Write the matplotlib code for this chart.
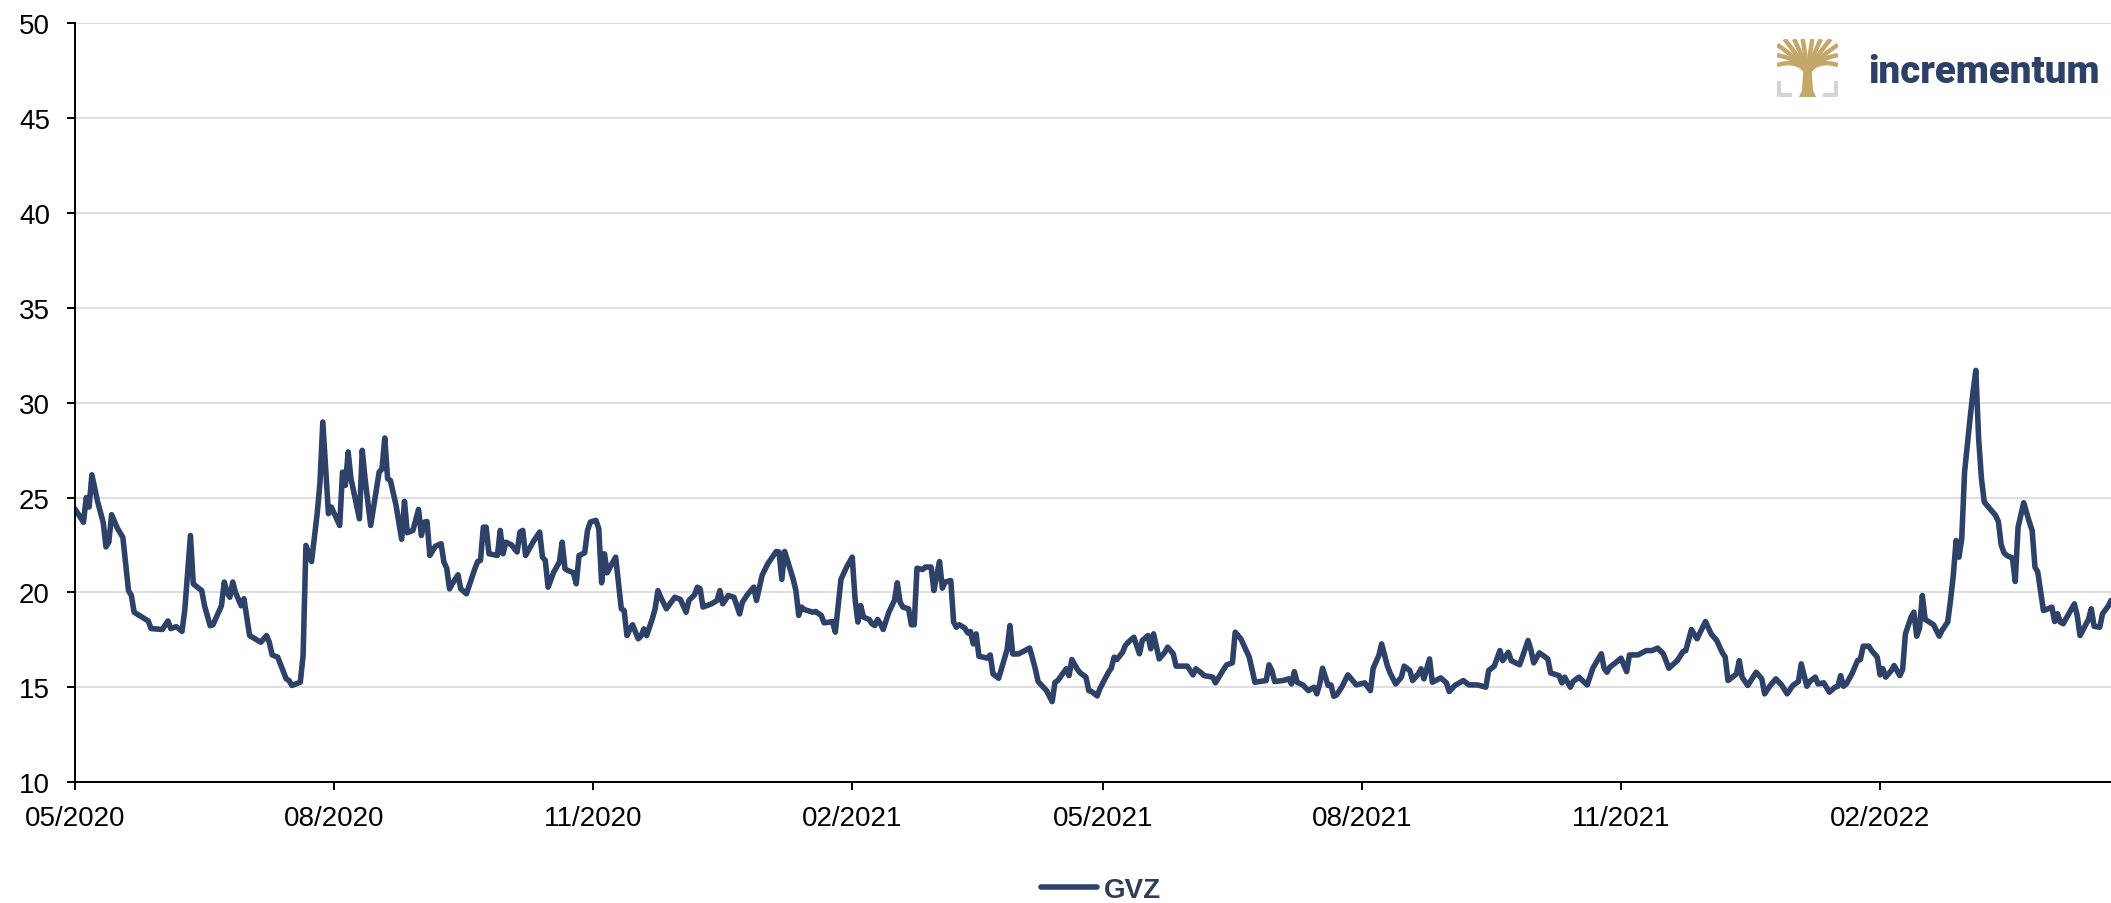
import matplotlib
matplotlib.use("Agg")
import matplotlib.pyplot as plt
import matplotlib.dates as mdates
import numpy as np
import pandas as pd

plt.rcParams['font.family'] = ['Liberation Sans', 'DejaVu Sans']

# GVZ closes, days counted from 1 May 2020
start = pd.Timestamp('2020-05-01')
obs_day = [
    0, 3, 4, 5, 6, 8, 10, 11, 12, 13, 15, 17, 19, 20, 21, 26, 27, 31, 33, 34,
    36, 38, 39, 41, 42, 45, 46, 48, 49, 52, 53, 54, 55, 56, 57, 59, 60, 62, 66, 68,
    69, 70, 72, 75, 76, 77, 80, 81, 82, 84, 86, 87, 88, 90, 91, 94, 95, 96, 97, 98,
    101, 102, 103, 105, 108, 109, 110, 111, 112, 114, 116, 117, 118, 120, 122, 123, 124, 125, 126, 128,
    130, 131, 132, 133, 134, 136, 137, 139, 142, 143, 144, 145, 146, 147, 150, 151, 152, 153, 155, 157,
    158, 159, 160, 162, 163, 165, 166, 167, 168, 170, 172, 173, 174, 175, 177, 178, 179, 181, 182, 183,
    185, 186, 187, 188, 189, 190, 192, 194, 195, 196, 197, 198, 200, 201, 202, 203, 205, 206, 207, 208,
    210, 213, 215, 217, 218, 220, 221, 222, 223, 226, 228, 229, 230, 232, 234, 236, 237, 239, 241, 242,
    244, 246, 249, 250, 251, 252, 255, 256, 257, 258, 259, 262, 263, 265, 266, 268, 269, 270, 272, 274,
    276, 277, 278, 279, 280, 282, 283, 284, 285, 286, 287, 289, 291, 292, 293, 294, 296, 297, 298, 299,
    301, 302, 304, 305, 306, 307, 308, 309, 311, 312, 313, 314, 316, 317, 318, 319, 320, 321, 324, 325,
    326, 328, 331, 332, 333, 335, 339, 340, 341, 342, 345, 347, 348, 349, 352, 353, 354, 356, 357, 359,
    360, 361, 363, 364, 367, 368, 369, 370, 372, 373, 374, 376, 377, 378, 379, 381, 382, 383, 385, 387,
    388, 390, 391, 393, 395, 397, 398, 400, 401, 404, 405, 408, 409, 411, 412, 414, 417, 419, 423, 424,
    425, 426, 429, 431, 432, 433, 434, 436, 438, 440, 441, 442, 443, 445, 446, 447, 448, 450, 452, 455,
    458, 460, 461, 463, 464, 466, 467, 469, 471, 472, 474, 475, 477, 478, 479, 481, 482, 485, 487, 488,
    490, 493, 495, 498, 501, 502, 504, 506, 507, 509, 510, 513, 516, 517, 518, 520, 523, 524, 527, 528,
    529, 531, 532, 534, 537, 539, 542, 543, 544, 545, 547, 549, 551, 552, 555, 558, 560, 562, 564, 566,
    569, 571, 572, 574, 576, 579, 581, 583, 585, 586, 587, 590, 591, 592, 594, 597, 599, 600, 602, 604,
    606, 608, 610, 612, 613, 615, 616, 618, 619, 621, 623, 625, 626, 627, 628, 629, 631, 633, 634, 635,
    637, 638, 640, 641, 642, 643, 645, 646, 648, 649, 650, 652, 653, 654, 655, 656, 657, 660, 661, 662,
    663, 665, 666, 667, 668, 669, 670, 671, 673, 674, 675, 676, 677, 678, 680, 682, 683, 684, 685, 686,
    688, 689, 690, 692, 694, 695, 696, 697, 699, 700, 702, 703, 704, 705, 706, 708, 710, 711, 712, 715,
    716, 717, 719, 720, 722, 723,
]
gvz = [
    24.4, 23.7, 25.0, 24.5, 26.2, 24.8, 23.7, 22.4, 22.65, 24.1, 23.4, 22.9, 20.1, 19.85, 18.96, 18.5, 18.1, 18.05, 18.5, 18.1,
    18.2, 17.95, 19.1, 23.0, 20.45, 20.1, 19.3, 18.25, 18.3, 19.3, 20.55, 20.0, 19.75, 20.55, 20.0, 19.3, 19.67, 17.73, 17.38, 17.73,
    17.38, 16.71, 16.59, 15.45, 15.36, 15.1, 15.27, 16.68, 22.48, 21.63, 24.15, 25.8, 28.98, 24.15, 24.5, 23.53, 26.34, 25.64, 27.4, 26.0,
    23.88, 27.49, 26.0, 23.53, 26.34, 26.5, 28.14, 26.0, 25.9, 24.6, 22.8, 24.8, 23.15, 23.27, 24.38, 23.0, 23.7, 23.74, 21.95, 22.44,
    22.57, 21.6, 21.28, 20.19, 20.46, 20.93, 20.19, 19.93, 21.25, 21.63, 21.69, 23.44, 23.44, 22.04, 21.95, 23.27, 22.04, 22.65, 22.51, 22.13,
    23.18, 23.27, 21.95, 22.48, 22.74, 23.18, 21.86, 21.69, 20.28, 21.07, 21.6, 22.65, 21.25, 21.16, 21.04, 20.46, 21.95, 22.09, 23.27, 23.71,
    23.8, 23.36, 20.51, 22.04, 21.04, 21.34, 21.86, 19.14, 19.05, 17.73, 18.05, 18.3, 17.56, 17.7, 18.08, 17.73, 18.61, 19.14, 20.1, 19.75,
    19.14, 19.75, 19.63, 18.96, 19.58, 19.88, 20.28, 20.19, 19.23, 19.4, 19.58, 20.1, 19.4, 19.84, 19.75, 18.87, 19.49, 19.93, 20.28, 19.58,
    20.9, 21.51, 22.16, 22.13, 20.69, 22.16, 20.72, 20.1, 18.79, 19.23, 19.1, 18.96, 19.0, 18.79, 18.4, 18.44, 18.47, 17.91, 20.69, 21.34,
    21.86, 19.67, 18.44, 19.31, 18.7, 18.58, 18.35, 18.26, 18.58, 18.35, 18.05, 18.96, 19.58, 20.51, 19.49, 19.23, 19.14, 18.3, 18.3, 21.28,
    21.21, 21.34, 21.34, 20.1, 20.9, 21.63, 20.23, 20.55, 20.63, 18.44, 18.17, 18.3, 18.12, 17.87, 17.94, 17.29, 17.82, 16.64, 16.54, 16.71,
    15.71, 15.48, 16.99, 18.26, 16.76, 16.76, 17.07, 16.54, 15.98, 15.31, 14.83, 14.25, 15.27, 15.36, 15.98, 15.62, 16.47, 15.94, 15.76, 15.54,
    14.83, 14.78, 14.55, 14.95, 15.8, 16.01, 16.59, 16.47, 16.85, 17.21, 17.38, 17.64, 17.21, 16.77, 17.47, 17.73, 17.03, 17.82, 16.5, 16.85,
    17.12, 16.77, 16.12, 16.12, 16.12, 15.66, 15.98, 15.76, 15.62, 15.54, 15.24, 15.98, 16.19, 16.29, 17.91, 17.56, 16.59, 15.27, 15.36, 16.19,
    15.89, 15.31, 15.36, 15.45, 15.18, 15.83, 15.27, 15.13, 14.83, 15.01, 14.66, 15.18, 16.01, 15.1, 15.13, 14.53, 14.6, 15.06, 15.66, 15.13,
    15.24, 14.83, 16.01, 16.68, 17.29, 16.15, 15.76, 15.18, 15.54, 16.12, 15.89, 15.36, 15.71, 15.98, 15.45, 16.5, 15.27, 15.5, 15.24, 14.78,
    15.1, 15.36, 15.13, 15.13, 15.01, 15.89, 16.12, 16.94, 16.41, 16.85, 16.41, 16.19, 17.47, 16.99, 16.29, 16.82, 16.5, 15.76, 15.62, 15.24,
    15.54, 15.01, 15.31, 15.54, 15.13, 16.01, 16.77, 16.01, 15.8, 16.06, 16.29, 16.54, 15.83, 16.71, 16.71, 16.94, 16.94, 17.07, 16.77, 16.01,
    16.41, 16.88, 16.94, 18.05, 17.56, 18.47, 17.82, 17.47, 16.82, 16.6, 15.36, 15.71, 16.41, 15.54, 15.1, 15.8, 15.45, 14.66, 15.1, 15.45,
    15.13, 14.66, 15.1, 15.31, 16.24, 15.06, 15.31, 15.54, 15.18, 15.24, 14.75, 15.01, 15.06, 15.62, 15.06, 15.18, 15.71, 16.41, 16.47, 17.17,
    17.17, 16.94, 16.59, 15.66, 15.98, 15.54, 15.89, 16.15, 15.62, 15.94, 17.82, 18.7, 18.96, 17.7, 18.12, 19.84, 18.58, 18.3, 18.0, 17.7,
    18.0, 18.44, 19.58, 20.9, 22.74, 21.86, 22.83, 26.34, 29.24, 30.56, 31.7, 28.1, 25.99, 24.76, 24.41, 24.06, 23.74, 22.51, 22.09, 21.95,
    21.81, 20.58, 23.44, 24.73, 23.71, 23.27, 21.34, 21.07, 19.05, 19.1, 19.23, 18.47, 18.88, 18.44, 18.35, 18.88, 19.4, 18.79, 17.73, 18.58,
    19.14, 18.22, 18.17, 18.88, 19.28, 19.58,
]
dates = start + pd.to_timedelta(obs_day, unit='D')

navy = '#2d4169'

fig = plt.figure(figsize=(21.11, 9.04), dpi=100)
ax = fig.add_axes([75 / 2111, 120.7 / 904, 2036 / 2111, 759.3 / 904])

ax.plot(dates, gvz, color=navy, lw=4.0, solid_joinstyle='round',
        solid_capstyle='round', label='GVZ')

ax.set_ylim(10, 50)
ax.set_yticks(range(10, 51, 5))
ax.set_xlim(dates[0], dates[-1])
ax.xaxis.set_major_locator(mdates.MonthLocator(bymonth=[2, 5, 8, 11]))
ax.xaxis.set_major_formatter(mdates.DateFormatter('%m/%Y'))

ax.yaxis.grid(True, color='#d9d9d9', lw=1.2)
ax.set_axisbelow(True)
for side in ['top', 'right']:
    ax.spines[side].set_visible(False)
for side in ['left', 'bottom']:
    ax.spines[side].set_linewidth(1.4)
    ax.spines[side].set_color('black')
ax.tick_params(axis='both', direction='out', length=6, width=1.4, labelsize=20)
ax.tick_params(axis='y', pad=12)
ax.tick_params(axis='x', pad=10)

leg = fig.legend(loc='center', bbox_to_anchor=(1101 / 2111, 13 / 904), frameon=False,
                 fontsize=20, handlelength=2.0, handletextpad=0.25)
for t in leg.get_texts():
    t.set_fontweight('bold')
    t.set_color('#2f3d55')

# logo: tree mark + word
icon = fig.add_axes([1777 / 2111, 1 - 98 / 904, 61 / 2111, 58 / 904])
icon.set_xlim(0, 1)
icon.set_ylim(0, 1)
icon.axis('off')
gold = '#c4a86a'
grey = '#d4d4d4'
icon.plot([0.03, 0.03, 0.24], [0.27, 0.03, 0.03], color=grey, lw=3, solid_capstyle='butt')
icon.plot([0.76, 0.97, 0.97], [0.03, 0.03, 0.27], color=grey, lw=3, solid_capstyle='butt')
icon.fill([0.36, 0.64, 0.59, 0.57, 0.43, 0.41], [0.0, 0.0, 0.12, 0.45, 0.45, 0.12],
          color=gold, lw=0)
tips = [(0.0, 0.55), (0.0, 0.72), (0.0, 0.9), (0.12, 1.0), (0.28, 1.0), (0.42, 1.0),
        (0.58, 1.0), (0.72, 1.0), (0.88, 1.0), (1.0, 0.9), (1.0, 0.72), (1.0, 0.55)]
t = np.linspace(0, 1, 30)
for tx, ty in tips:
    cx = 0.5 + (tx - 0.5) * 0.3
    cy = 0.66
    bx = (1 - t) ** 2 * 0.5 + 2 * (1 - t) * t * cx + t ** 2 * tx
    by = (1 - t) ** 2 * 0.4 + 2 * (1 - t) * t * cy + t ** 2 * ty
    icon.plot(bx, by, color=gold, lw=3.2, solid_capstyle='butt')

logo = fig.text(1868 / 2111, 1 - 83 / 904, 'incrementum', fontsize=28, fontweight='heavy',
                color='#2e4068', family=['Roboto', 'DejaVu Sans'], va='baseline', ha='left')
fig.canvas.draw()
w = logo.get_window_extent().width
logo.set_fontsize(28 * 232 / w)

fig.savefig('out.png', dpi=100)
